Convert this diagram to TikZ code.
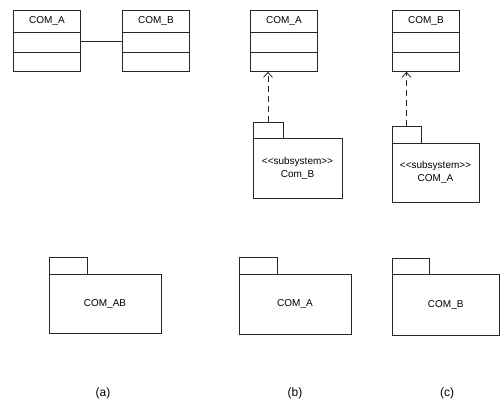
\documentclass[tikz,border=0pt]{standalone}
\usepackage{fontspec}
\setmainfont{Liberation Sans}
\usepackage{tikz}
\usetikzlibrary{calc}
\usetikzlibrary{arrows.meta}
\tikzset{
  umlline/.style={draw=black!85, line width=0.8pt},
  lbl/.style={font=\fontsize{10}{11}\selectfont, inner sep=0pt, align=center},
  depline/.style={umlline, dash pattern=on 6pt off 4pt, -{Straight Barb[length=5pt,width=9pt]}},
}
% class box: name, left, top, label
\newcommand{\umlclass}[4]{
  \node[umlline, minimum width=67pt, minimum height=61pt, inner sep=0pt, anchor=north west] (#1) at ( #2 , #3 ) {};
  \draw[umlline] ($(#1.north west)+(0,22)$) -- ($(#1.north east)+(0,22)$);
  \draw[umlline] ($(#1.north west)+(0,42)$) -- ($(#1.north east)+(0,42)$);
  \node[lbl] (#1-name) at ($(#1.north)+(0,11)$) {#4};
}
% package: name, left, top, tab right, tab bottom, right, bottom, label
\newcommand{\umlpkg}[8]{
  \draw[umlline] ( #2 , #5 ) rectangle ( #4 , #3 );
  \coordinate (#1-tab) at ($( #2 , #3 )!0.5!( #4 , #3 )$);
  \draw[umlline] ( #2 , #5 ) rectangle ( #6 , #7 );
  \node[lbl] (#1) at ($( #2 , #5 )!0.5!( #6 , #7 )$) {#8};
}
\newcommand{\subsys}{<\kern0pt<subsystem>\kern0pt>}
\begin{document}
\begin{tikzpicture}[x=1pt,y=-1pt]
\useasboundingbox (0,0) rectangle (500,405);
% (a) two classes
\umlclass{ca}{13}{10}{COM\_A}
\umlclass{cb}{122}{10}{COM\_B}
\draw[umlline] (ca.east) -- (cb.west);
% (b) class with subsystem
\umlclass{cbA}{250}{10}{COM\_A}
\umlpkg{pbB}{253}{122}{283}{138}{342}{198}{\subsys\\[2pt]Com\_B}
\draw[depline] (pbB-tab) -- (pbB-tab |- cbA.south);
% (c) class with subsystem
\umlclass{ccB}{392}{10}{COM\_B}
\umlpkg{pcA}{392}{126}{421}{143}{479}{202}{\subsys\\[2pt]COM\_A}
\draw[depline] (pcA-tab) -- (pcA-tab |- ccB.south);
% packages, bottom row
\umlpkg{pa}{49}{257}{87}{274}{161}{333}{COM\_AB}
\umlpkg{pb}{239}{257}{277}{274}{351}{334}{COM\_A}
\umlpkg{pc}{392}{258}{429}{274}{499.5}{335}{COM\_B}
% captions
\node[lbl, font=\fontsize{12}{13}\selectfont] (capa) at (103,393) {(a)};
\node[lbl, font=\fontsize{12}{13}\selectfont] (capb) at (295,393) {(b)};
\node[lbl, font=\fontsize{12}{13}\selectfont] (capc) at (447,393) {(c)};
\end{tikzpicture}
\end{document}
